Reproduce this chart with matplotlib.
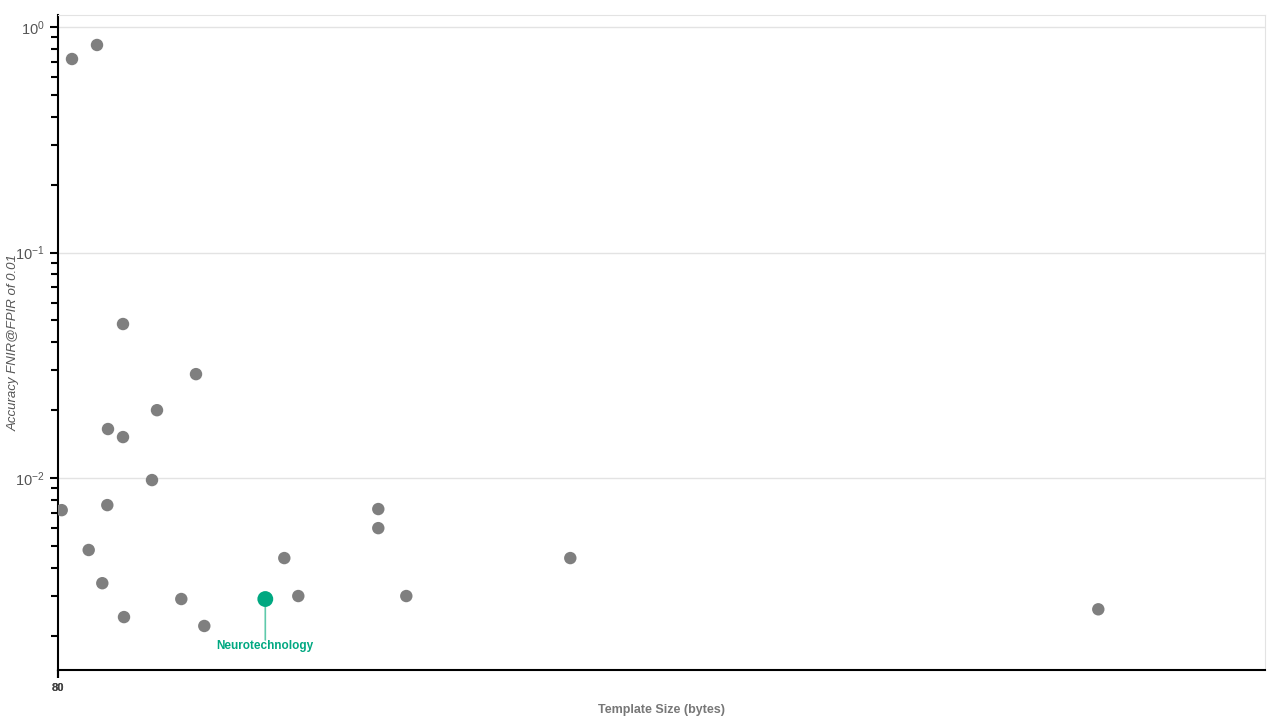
import matplotlib.pyplot as plt

plt.rcParams["font.family"] = ["Liberation Sans", "DejaVu Sans"]
plt.rcParams["mathtext.default"] = "regular"

# template size in bytes (approximate, axis has no readable ticks) and FNIR @ FPIR 0.01
sizes = [140, 390, 650, 1380, 990, 500, 650, 940, 37, 493, 307, 443, 660, 1233, 1463,
         2263, 2403, 3203, 3203, 3483, 5123, 10403]
fnir = [0.721, 0.832, 0.0482, 0.0289, 0.0200, 0.0165, 0.0152, 0.0098, 0.00721, 0.00759,
        0.00480, 0.00342, 0.00242, 0.00291, 0.00221, 0.00442, 0.00300, 0.00729, 0.00600,
        0.00300, 0.00442, 0.00262]

highlight_name = "Neurotechnology"
highlight_size = 2073
highlight_fnir = 0.00291

gray = "#7f7f7f"
green = "#00a881"

fig = plt.figure(figsize=(12.8, 7.2), dpi=100)
ax = fig.add_axes([58 / 1280, 50 / 720, 1207 / 1280, 655 / 720])

ax.scatter(sizes, fnir, s=80, color=gray, edgecolors="none", zorder=3)
ax.scatter([highlight_size], [highlight_fnir], s=130, color=green, edgecolors="none", zorder=4)
# leader line, then the label under it
ax.annotate("", xy=(highlight_size, highlight_fnir), xytext=(0, -29.5),
            textcoords="offset points",
            arrowprops=dict(arrowstyle="-", color="#5fc9ab", lw=1.2, shrinkA=0, shrinkB=5))
ax.annotate(highlight_name, xy=(highlight_size, highlight_fnir), xytext=(0, -34),
            textcoords="offset points", ha="center", va="center", color=green,
            fontsize=8.5, fontweight="bold")

ax.set_yscale("log")
ax.set_ylim(0.00141, 1.13)
ax.set_xlim(0, 12070)
ax.grid(True, axis="y", which="major", color="#e3e3e3", lw=1)
ax.set_axisbelow(True)

ax.set_xticks([0, 0])
ax.set_xticklabels(["38", "80"], color="#444444", fontsize=8, fontweight="bold")
ax.tick_params(axis="x", length=6, width=1.5)
ax.tick_params(axis="y", which="major", length=6, width=1.5, labelcolor="#555555", labelsize=10.5)
ax.tick_params(axis="y", which="minor", length=5, width=1.5)

for s in ["top", "right"]:
    ax.spines[s].set_color("#e3e3e3")
for s in ["left", "bottom"]:
    ax.spines[s].set_color("black")
    ax.spines[s].set_linewidth(1.5)

ax.set_xlabel("Template Size (bytes)", color="#777777", fontsize=9, fontweight="bold",
              labelpad=8)
ax.set_ylabel("Accuracy FNIR@FPIR of 0.01", color="#555555", fontsize=9.5, style="italic")
ax.yaxis.set_label_coords(-0.0315, 0.5)

fig.savefig("out.png", dpi=100)
